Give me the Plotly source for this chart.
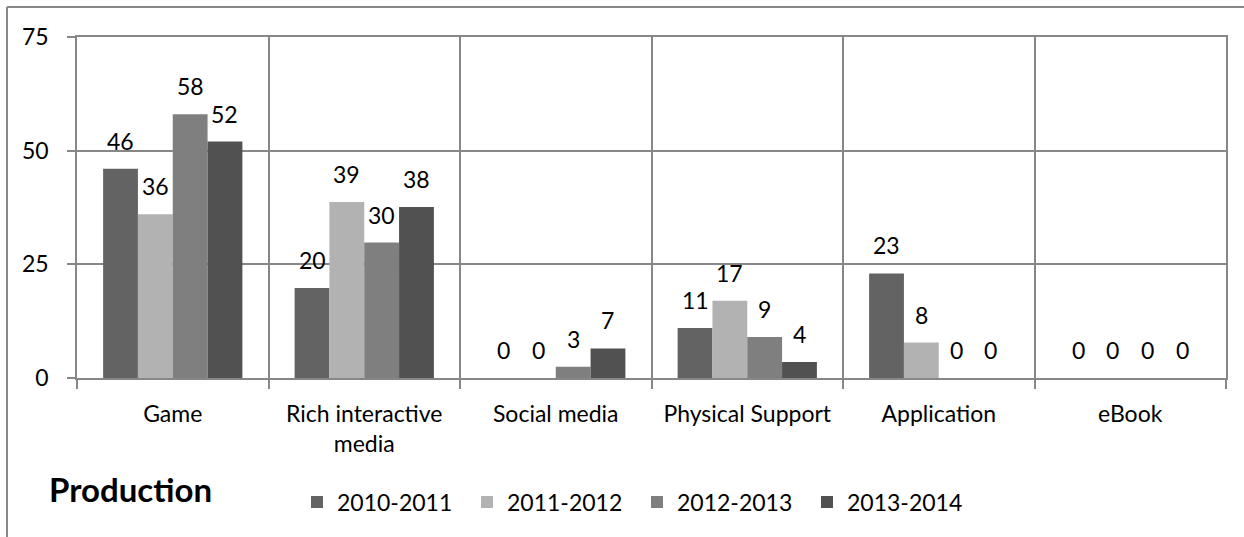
import plotly.graph_objects as go
from decimal import Decimal, ROUND_HALF_UP

# Production counts per media type and school year
categories = ["Game", "Rich interactive<br>media", "Social media",
              "Physical Support", "Application", "eBook"]
years = ["2010-2011", "2011-2012", "2012-2013", "2013-2014"]
v_2010_2011 = [46, 19.8, 0, 11, 23, 0]
v_2011_2012 = [36, 38.7, 0, 17, 7.8, 0]
v_2012_2013 = [58, 29.8, 2.5, 9, 0, 0]
v_2013_2014 = [52, 37.6, 6.5, 3.5, 0, 0]
series = [v_2010_2011, v_2011_2012, v_2012_2013, v_2013_2014]
colors = ["#636363", "#b2b2b2", "#7f7f7f", "#515151"]
y_ticks = [0, 25, 50, 75]

W, H = 1244, 537
M_L, M_R, M_T, M_B = 77, 18, 37, 159
PLOT_W = W - M_L - M_R
PLOT_H = H - M_T - M_B
BARGAP = 1.5 / 5.5
FONT = "Lato, 'Open Sans', sans-serif"
GRID = "#878787"


def px_x(px):
    return (px - M_L) / PLOT_W


def px_y(py):
    return 1 - (py - M_T) / PLOT_H


def label(v):
    # whole-number label, halves rounded up
    return str(Decimal(str(v)).quantize(Decimal("1"), rounding=ROUND_HALF_UP))


fig = go.Figure()
for name, vals, col in zip(years, series, colors):
    fig.add_trace(go.Bar(
        x=categories, y=vals, name=name,
        marker=dict(color=col, line=dict(width=0)),
    ))

# value labels above each bar, shifted to the bar's slot inside its group
cat_w = PLOT_W / len(categories)
bar_w = cat_w * (1 - BARGAP) / len(series)
annotations = []
for i, vals in enumerate(series):
    dx = (i - (len(series) - 1) / 2) * bar_w
    for c, v in zip(categories, vals):
        annotations.append(dict(
            x=c, y=v, xref="x", yref="y", text=label(v),
            showarrow=False, xanchor="center", yanchor="bottom",
            xshift=dx, yshift=12,
            font=dict(family=FONT, size=23, color="#000000"),
        ))

annotations.append(dict(
    x=px_x(47), y=px_y(489), xref="paper", yref="paper",
    text="<b>Production</b>", showarrow=False,
    xanchor="left", yanchor="middle",
    font=dict(family=FONT, size=33, color="#000000"),
))

# outer chart frame (top and left edges)
shapes = [
    dict(type="line", xref="paper", yref="paper",
         x0=px_x(7), x1=px_x(W + 5), y0=px_y(7), y1=px_y(7),
         line=dict(color=GRID, width=2)),
    dict(type="line", xref="paper", yref="paper",
         x0=px_x(7), x1=px_x(7), y0=px_y(7), y1=px_y(H + 5),
         line=dict(color=GRID, width=2)),
]

fig.update_layout(
    width=W, height=H,
    margin=dict(l=M_L, r=M_R, t=M_T, b=M_B, pad=0),
    paper_bgcolor="white", plot_bgcolor="white",
    barmode="group", bargap=BARGAP, bargroupgap=0,
    font=dict(family=FONT, size=23, color="#000000"),
    showlegend=True,
    legend=dict(
        orientation="h", x=px_x(297), y=px_y(502), xanchor="left",
        yanchor="middle", font=dict(family=FONT, size=23),
        entrywidth=125, entrywidthmode="pixels",
        bgcolor="rgba(0,0,0,0)",
    ),
    annotations=annotations,
    shapes=shapes,
)

fig.update_xaxes(
    type="category", tickson="boundaries",
    showgrid=True, gridcolor=GRID, gridwidth=1.5,
    showline=True, linecolor=GRID, linewidth=1.5, mirror=True,
    ticks="outside", ticklen=9, tickcolor=GRID, tickwidth=1.5,
    ticklabelstandoff=15,
    tickfont=dict(family=FONT, size=23),
)
fig.update_yaxes(
    range=[0, 75], tickvals=y_ticks,
    showgrid=True, gridcolor=GRID, gridwidth=1.5, zeroline=False,
    showline=True, linecolor=GRID, linewidth=1.5, mirror=True,
    ticks="outside", ticklen=8, tickcolor=GRID, tickwidth=1.5,
    ticklabelstandoff=14,
    tickfont=dict(family=FONT, size=23),
)

fig.write_html("out.html")
